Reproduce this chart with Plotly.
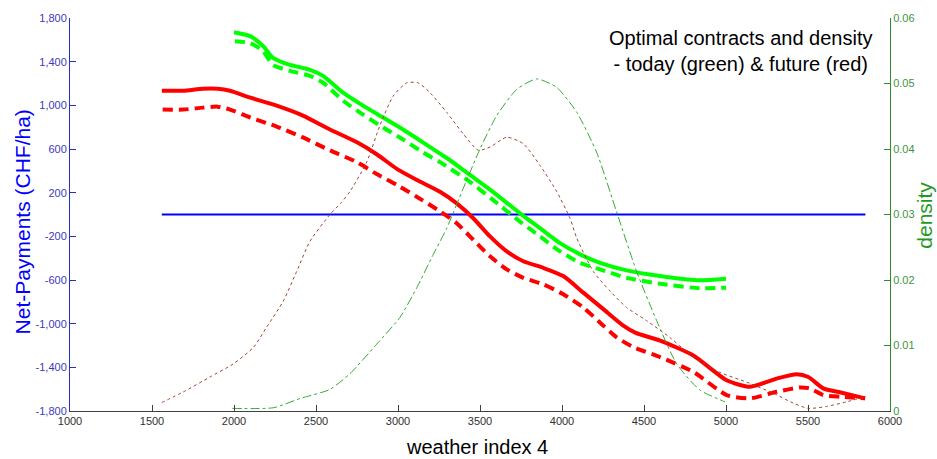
import plotly.graph_objects as go

# ---------------- data ----------------
future_x = [1560, 1690, 1810, 1900, 1976, 2100, 2260, 2420, 2585, 2750, 2870, 2995, 3116, 3256,
            3358, 3459, 3561, 3663, 3764, 3886, 4008, 4130, 4252, 4374, 4450, 4598, 4801, 5004,
            5146, 5309, 5431, 5502, 5593, 5700, 5848]
future_solid = [1134, 1134, 1152, 1152, 1134, 1070, 997, 906, 779, 661, 552, 416, 316, 208,
                102, -34, -201, -338, -428, -489, -564, -716, -867, -1018, -1085, -1155, -1291, -1518,
                -1579, -1503, -1463, -1488, -1593, -1630, -1684]

future_dash_x = [1565, 1690, 1810, 1900, 1976, 2100, 2260, 2420, 2585, 2750, 2870, 2995, 3116, 3256,
                 3358, 3459, 3561, 3663, 3764, 3886, 4008, 4130, 4252, 4333, 4435, 4598, 4801, 5004,
                 5146, 5309, 5451, 5512, 5593, 5700, 5848]
future_dashed = [961, 961, 979, 988, 961, 888, 806, 706, 588, 479, 370, 270, 161, 30,
                 -80, -231, -383, -503, -580, -640, -731, -852, -1018, -1125, -1215, -1306, -1442, -1654,
                 -1684, -1624, -1584, -1593, -1654, -1670, -1684]

today_x = [2000, 2098, 2177, 2238, 2341, 2463, 2543, 2665, 2787, 2909, 3030, 3152, 3256, 3317,
           3439, 3579, 3744, 3866, 3988, 4110, 4232, 4394, 4598, 4823, 5000]
today_solid = [1670, 1634, 1543, 1434, 1370, 1325, 1270, 1116, 997, 888, 779, 661, 557, 497,
               362, 208, 11, -125, -262, -365, -443, -512, -564, -602, -588]

today_dash_x = [2006, 2098, 2177, 2238, 2341, 2463, 2543, 2665, 2787, 2909, 3030, 3152, 3256,
                3439, 3579, 3744, 3866, 3988, 4110, 4232, 4394, 4598, 4841, 5000]
today_dashed = [1588, 1570, 1497, 1370, 1316, 1270, 1207, 1043, 915, 797, 688, 570, 480,
                298, 134, -65, -201, -338, -443, -503, -580, -634, -676, -670]

zero_x = [1560, 5850]
zero_y = [0, 0]

dens_future_x = [1560, 1690, 1854, 1996, 2118, 2199, 2301, 2382, 2463, 2585, 2657, 2707, 2809, 2890,
                 2971, 3053, 3124, 3195, 3297, 3398, 3490, 3561, 3663, 3764, 3866, 3968, 4049, 4090,
                 4191, 4293, 4394, 4516, 4659, 4801, 4963, 5126, 5289, 5411, 5502, 5614, 5736, 5848]
dens_future = [0.0013, 0.0029, 0.0052, 0.0072, 0.0097, 0.0128, 0.0168, 0.0213, 0.0259, 0.0300, 0.0319,
               0.0335, 0.0380, 0.0436, 0.0481, 0.0501, 0.0501, 0.0486, 0.0456, 0.0423, 0.0398, 0.0403,
               0.0418, 0.0408, 0.0375, 0.0335, 0.0294, 0.0264, 0.0213, 0.0183, 0.0158, 0.0138, 0.0112,
               0.0082, 0.0059, 0.0044, 0.0027, 0.0012, 0.0004, 0.0007, 0.0014, 0.0022]

dens_today_x = [1990, 2240, 2402, 2585, 2707, 2870, 3012, 3114, 3215, 3297, 3398, 3500, 3602, 3724,
                3846, 3968, 4090, 4211, 4333, 4455, 4577, 4699, 4841, 4994]
dens_today = [0.0004, 0.0005, 0.0019, 0.0033, 0.0057, 0.0102, 0.0143, 0.0188, 0.0239, 0.0279, 0.0340,
              0.0400, 0.0451, 0.0491, 0.0507, 0.0494, 0.0456, 0.0395, 0.0304, 0.0213, 0.0138, 0.0072,
              0.0032, 0.0014]

left_ticks = [-1800, -1400, -1000, -600, -200, 200, 600, 1000, 1400, 1800]
right_ticks = [0, 0.01, 0.02, 0.03, 0.04, 0.05, 0.06]
x_ticks = [1000, 1500, 2000, 2500, 3000, 3500, 4000, 4500, 5000, 5500, 6000]

# ---------------- figure ----------------
FONT = "Liberation Sans, Arial, sans-serif"
fig = go.Figure()

fig.add_trace(go.Scatter(x=dens_future_x, y=dens_future, yaxis="y2", mode="lines",
                         line=dict(color="#a0452d", width=1, dash="dot", shape="spline", smoothing=0.6)))
fig.add_trace(go.Scatter(x=dens_today_x, y=dens_today, yaxis="y2", mode="lines",
                         line=dict(color="#33aa33", width=1, dash="dashdot", shape="spline", smoothing=0.6)))
fig.add_trace(go.Scatter(x=zero_x, y=zero_y, mode="lines", line=dict(color="#0000ff", width=2)))
fig.add_trace(go.Scatter(x=future_dash_x, y=future_dashed, mode="lines",
                         line=dict(color="#ff0000", width=4, dash="10px,6px", shape="spline", smoothing=0.6)))
fig.add_trace(go.Scatter(x=future_x, y=future_solid, mode="lines",
                         line=dict(color="#ff0000", width=4, shape="spline", smoothing=0.6)))
fig.add_trace(go.Scatter(x=today_dash_x, y=today_dashed, mode="lines",
                         line=dict(color="#00ff00", width=4, dash="10px,6px", shape="spline", smoothing=0.6)))
fig.add_trace(go.Scatter(x=today_x, y=today_solid, mode="lines",
                         line=dict(color="#00ff00", width=4, shape="spline", smoothing=0.6)))

fig.update_layout(
    width=937, height=459,
    margin=dict(l=70, r=47, t=15, b=48),
    paper_bgcolor="white", plot_bgcolor="white",
    showlegend=False,
    font=dict(family=FONT),
    xaxis=dict(range=[1000, 6000], tickvals=x_ticks, ticktext=[str(v) for v in x_ticks],
               showgrid=False, zeroline=False, showline=True, linecolor="#404040", linewidth=1,
               ticks="inside", ticklen=6, tickcolor="#404040",
               tickfont=dict(size=11, color="#303030", family=FONT)),
    yaxis=dict(range=[-1800, 1800], tickvals=left_ticks,
               ticktext=[f"{v:,}" for v in left_ticks],
               showgrid=False, zeroline=False, showline=True, linecolor="#2a2ad0", linewidth=1,
               ticks="inside", ticklen=6, tickcolor="#2a2ad0",
               tickfont=dict(size=11, color="#3a3ab8", family=FONT)),
    yaxis2=dict(range=[0, 0.06], tickvals=right_ticks,
                ticktext=["0", "0.01", "0.02", "0.03", "0.04", "0.05", "0.06"],
                overlaying="y", side="right", anchor="x",
                showgrid=False, zeroline=False, showline=True, linecolor="#2e8b2e", linewidth=1,
                ticks="inside", ticklen=6, tickcolor="#2e8b2e",
                tickfont=dict(size=11, color="#3c963c", family=FONT)),
    annotations=[
        dict(text="Optimal contracts and density<br>- today (green) & future (red)",
             xref="paper", yref="paper", x=0.818, y=0.917, xanchor="center", yanchor="middle",
             showarrow=False, align="center", font=dict(size=20, color="black", family=FONT)),
        dict(text="Net-Payments (CHF/ha)", xref="paper", yref="paper", x=-0.0585, y=0.48,
             xanchor="center", yanchor="middle", textangle=-90, showarrow=False,
             font=dict(size=21, color="#0000ff", family=FONT)),
        dict(text="density", xref="paper", yref="paper", x=1.0427, y=0.497,
             xanchor="center", yanchor="middle", textangle=-90, showarrow=False,
             font=dict(size=21, color="#1f9a1f", family=FONT)),
        dict(text="weather index 4", xref="paper", yref="paper", x=0.496, y=-0.091,
             xanchor="center", yanchor="middle", showarrow=False,
             font=dict(size=20, color="black", family=FONT)),
    ],
)

fig.write_html("out.html")
